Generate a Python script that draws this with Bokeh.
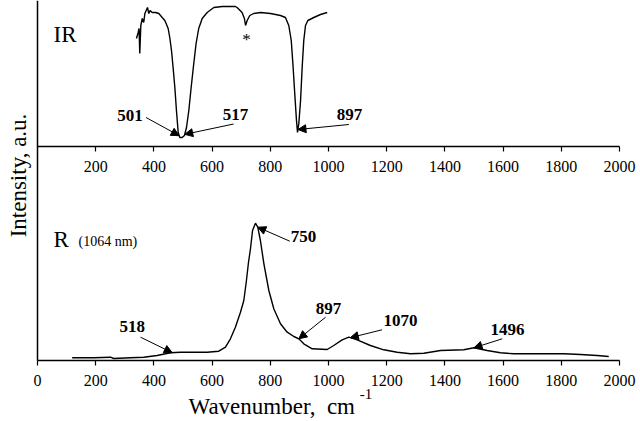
import numpy as np
from bokeh.plotting import figure
from bokeh.models import LinearAxis, FixedTicker, Label, Arrow, NormalHead, Range1d
from bokeh.embed import file_html
from bokeh.resources import INLINE

# ---------------- data ----------------
ir_wavenumber = [340, 346, 349, 351.5, 355, 360, 365, 369, 373.5, 378, 382.5, 387, 394,
                 405.5, 417, 428.5, 437.5, 442, 449, 454.5, 460.5, 466, 472, 477.5, 483.5,
                 489, 497, 505, 512, 520, 528, 537, 545, 554, 566, 583, 606, 635, 680, 686,
                 703, 711, 715, 720.5, 729.5, 743, 766, 800.5, 835, 852, 863.5, 872, 878.5,
                 884, 890, 893.5, 898, 904, 909.5, 915, 921, 929, 949.5, 972.5, 995.5]
ir_signal = [108, 114, 118, 93, 121, 128, 124, 133, 136, 139, 133, 136, 134,
             134, 133, 129, 126, 123, 118, 109, 96, 79, 59, 36, 14,
             9, 9, 11, 19, 36, 59, 83, 103, 118, 128, 134, 139, 140, 140, 139,
             134, 128, 121, 126, 131, 133, 134, 133, 131, 129, 121, 106, 79,
             53, 26, 14, 23, 46, 79, 106, 121, 126, 129, 132, 134]

raman_wavenumber = [119, 193.5, 251, 262, 319.5, 365, 411, 457, 491, 537, 583, 623, 646,
                    663, 680, 697.5, 709, 718, 725, 732, 739, 749, 757, 766, 778, 795, 812,
                    835, 858, 881, 898, 915, 944, 995.5, 1018, 1047, 1070, 1098.5, 1144,
                    1190, 1236, 1282, 1327.5, 1385, 1465, 1500, 1545, 1591, 1637, 1740,
                    1809, 1866, 1923, 1963]
raman_signal = [2.7, 2.7, 3.3, 2, 2.7, 3.3, 5, 7.7, 8.3, 8.3, 8.3, 9.3, 13.3,
                21.7, 33.3, 48.3, 60, 80, 98, 112, 130, 137.3, 133.3, 120, 96.7, 70, 51.7,
                36.7, 28.3, 24, 21.7, 16.7, 11.7, 11, 15, 20.7, 23.3, 20.7, 15,
                10.7, 8.3, 6.7, 7.3, 10, 10.7, 12.7, 10, 7.7, 6.7, 6.7,
                6.7, 6, 5, 4]

ir_peak_labels = ["501", "517", "897"]
raman_peak_labels = ["518", "750", "897", "1070", "1496"]

lower_ticks = [0, 200, 400, 600, 800, 1000, 1200, 1400, 1600, 1800, 2000]
upper_ticks = [200, 400, 600, 800, 1000, 1200, 1400, 1600, 1800, 2000]

# ---------------- layout ----------------
IR_BASE = 214          # y position of the IR panel baseline (upper axis)
TOP = 360              # top of the plotted area
SERIF = "Liberation Serif"
W, H = 636, 418
PX_PER_UNIT = 0.291
X0 = -37 / PX_PER_UNIT
X1 = X0 + W / PX_PER_UNIT

p = figure(width=W, height=H, x_range=Range1d(X0, X1), y_range=Range1d(TOP - H, TOP),
           output_backend="svg", toolbar_location=None,
           x_axis_location=None, y_axis_location=None,
           min_border=0, min_border_left=0, min_border_right=0,
           min_border_top=0, min_border_bottom=0)
p.outline_line_color = None
p.xgrid.visible = False
p.ygrid.visible = False
p.background_fill_color = "white"
p.border_fill_color = "white"


def style_axis(ax, ticks):
    ax.ticker = FixedTicker(ticks=ticks)
    ax.bounds = (lower_ticks[0], lower_ticks[-1])
    ax.axis_line_width = 1.5
    ax.axis_line_color = "black"
    ax.major_tick_line_color = "black"
    ax.major_tick_line_width = 1.2
    ax.major_tick_out = 5
    ax.major_tick_in = 0
    ax.minor_tick_line_color = None
    ax.major_label_text_font = SERIF
    ax.major_label_text_font_size = "16px"
    ax.major_label_text_color = "black"
    ax.major_label_standoff = 9


lower = LinearAxis(fixed_location=0)
style_axis(lower, lower_ticks)
p.add_layout(lower, "below")

upper = LinearAxis(fixed_location=IR_BASE)
style_axis(upper, upper_ticks)
p.add_layout(upper, "below")

left = LinearAxis(fixed_location=0, ticker=FixedTicker(ticks=[]), bounds=(0, TOP))
left.axis_line_width = 1.5
left.axis_line_color = "black"
left.major_tick_line_color = None
left.minor_tick_line_color = None
left.major_label_text_font_size = "0px"
p.add_layout(left, "left")

# spectra
ir_y = [IR_BASE + v for v in ir_signal]
p.line(ir_wavenumber, ir_y, line_color="black", line_width=1.4)
p.line(raman_wavenumber, raman_signal, line_color="black", line_width=1.4)

# peak annotations: (panel, label, text x, text y, arrow tail x, tail y, arrow tip wavenumber)
annotations = [
    ("ir", ir_peak_labels[0], 318, 245, 373, 243, 487),
    ("ir", ir_peak_labels[1], 680, 246, 674, 236.5, 506),
    ("ir", ir_peak_labels[2], 1072, 246, 1070, 236, 895),
    ("r", raman_peak_labels[0], 326, 34, 354, 23.3, 463),
    ("r", raman_peak_labels[1], 914, 124, 867, 119.3, 757),
    ("r", raman_peak_labels[2], 1000, 52, 990, 43.3, 898),
    ("r", raman_peak_labels[3], 1247, 40, 1184, 30.7, 1075),
    ("r", raman_peak_labels[4], 1615, 31, 1597, 21.7, 1500),
]
for panel, txt, tx, ty, ax0, ay0, tip_w in annotations:
    if panel == "ir":
        tip_y = IR_BASE + float(np.interp(tip_w, ir_wavenumber, ir_signal))
    else:
        tip_y = float(np.interp(tip_w, raman_wavenumber, raman_signal))
    p.add_layout(Label(x=tx, y=ty, text=txt, text_font=SERIF, text_font_style="bold",
                       text_font_size="17px", text_align="center", text_baseline="middle",
                       text_color="black"))
    p.add_layout(Arrow(x_start=ax0, y_start=ay0, x_end=tip_w, y_end=tip_y,
                       line_color="black", line_width=1,
                       end=NormalHead(size=8, fill_color="black", line_color="black", line_width=1)))

# panel captions
p.add_layout(Label(x=718, y=321, text="*", text_font=SERIF, text_font_size="17px",
                   text_align="center", text_baseline="middle", text_color="black"))
p.add_layout(Label(x=55, y=326, text="IR", text_font=SERIF, text_font_size="23px",
                   text_align="left", text_baseline="middle", text_color="black"))
p.add_layout(Label(x=55, y=121, text="R", text_font=SERIF, text_font_size="23px",
                   text_align="left", text_baseline="middle", text_color="black"))
p.add_layout(Label(x=141, y=119, text="(1064 nm)", text_font=SERIF, text_font_size="14px",
                   text_align="left", text_baseline="middle", text_color="black"))

# axis titles
p.add_layout(Label(x=-65, y=185, text="Intensity, a.u.", angle=np.pi / 2, text_font=SERIF,
                   text_font_size="23px", text_align="center", text_baseline="middle",
                   text_color="black"))
p.add_layout(Label(x=519, y=-46, text="Wavenumber,\u00a0 cm", text_font=SERIF,
                   text_font_size="23px", text_align="left", text_baseline="alphabetic",
                   text_color="black"))
p.add_layout(Label(x=1107, y=-33, text="-1", text_font=SERIF,
                   text_font_size="15px", text_align="left", text_baseline="alphabetic",
                   text_color="black"))

open("out.html", "w").write(file_html(p, INLINE))
